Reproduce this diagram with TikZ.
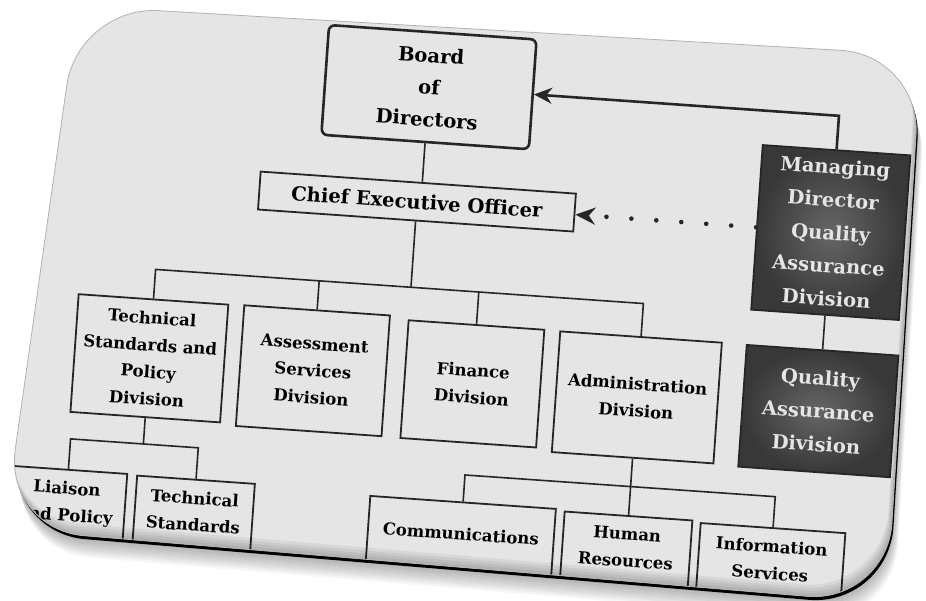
\documentclass[tikz,border=0pt]{standalone}
\usepackage{fontspec}
\setmainfont{DejaVu Serif}
\usetikzlibrary{arrows.meta}

\definecolor{cardgray}{RGB}{229,229,229}
\definecolor{inkgray}{RGB}{38,38,38}

% outline of the tilted card
\def\cardpath{(78,-6) -- (921,-55) -- (887,-603) -- (4,-529) -- cycle}

\begin{document}
\begin{tikzpicture}[x=1pt,y=1pt,>=stealth,
  unit/.style={draw=inkgray,line width=1.8pt,fill=cardgray,align=center,inner sep=0pt,
    font=\bfseries\fontsize{16.5}{27}\selectfont},
  head/.style={unit,font=\bfseries\fontsize{19.5}{32}\selectfont},
  qadiv/.style={head,font=\bfseries\fontsize{19.5}{33}\selectfont,
    inner color=black!60,outer color=black!78,text=white!90!black},
  sub/.style={unit,anchor=north,inner ysep=12pt,text depth=70pt},
  link/.style={draw=inkgray,line width=1.6pt}]
\useasboundingbox (0,0) rectangle (926,-601);
\fill[white] (0,0) rectangle (926,-601);

% soft shadow and dark rim under the card
\foreach \k in {1,...,10}
  \fill[black,opacity=0.035,rounded corners=80,shift={(\k*0.6,-\k*2.2)}] \cardpath;
\fill[black,rounded corners=80,shift={(1.5,-3.5)}] \cardpath;
\fill[cardgray,rounded corners=80] \cardpath;

\begin{scope}
\clip[rounded corners=80] \cardpath;
\begin{scope}[transform canvas={rotate=-4}]
\node[head,rounded corners=6pt,line width=2.6pt,minimum width=208,minimum height=110] (board) at (434,-57) {Board\\of\\Directors};
\node[head,minimum width=316,minimum height=38] (ceo) at (430,-172) {Chief Executive Officer};
\node[qadiv,minimum width=148,minimum height=165] (md) at (845,-174) {Managing\\Director\\Quality\\Assurance\\Division};
\node[qadiv,minimum width=152,minimum height=122] (qa) at (845,-353) {Quality\\Assurance\\Division};

\node[unit,minimum width=150,minimum height=118] (tech) at (174,-347) {Technical\\Standards and\\Policy\\Division};
\node[unit,minimum width=146,minimum height=121] (assess) at (338,-348) {Assessment\\Services\\Division};
\node[unit,minimum width=136,minimum height=118] (finance) at (498,-350) {Finance\\Division};
\node[unit,minimum width=162,minimum height=121] (admin) at (663,-352) {Administration\\Division};

\node[sub,minimum width=118] (liaison) at (101,-463) {Liaison\\and Policy};
\node[sub,minimum width=118] (tstd) at (229,-464) {Technical\\Standards};
\node[sub,minimum width=186,inner ysep=25pt] (comm) at (497,-468) {Communications};
\node[sub,minimum width=128] (hr) at (663,-470) {Human\\Resources};
\node[sub,minimum width=145] (info) at (808,-472) {Information\\Services};

\draw[link] (board.south) -- (board.south |- ceo.north);
\draw[link] (ceo.south) -- ++(0,-66) coordinate (cbus);
\draw[link] (tech.north) |- (cbus) -| (admin.north);
\draw[link] (assess.north) -- (assess.north |- cbus);
\draw[link] (finance.north) -- (finance.north |- cbus);

\draw[link] (tech.south) -- ++(0,-26) coordinate (tbus);
\draw[link] (liaison.north) |- (tbus) -| (tstd.north);

\draw[link] (admin.south) -- ++(0,-28) coordinate (abus);
\draw[link] (comm.north) |- (abus) -| (info.north);
\draw[link] (abus) -- (hr.north);

\draw[link] (md.south) -- (qa.north);
\draw[link,line width=2.6pt,-{Stealth[length=18pt,width=16pt]}] (md.north) |- (board.east);
\draw[inkgray,line width=4.6pt,line cap=round,dash pattern=on 0pt off 25pt,
  -{Stealth[length=20pt,width=17pt]}] (md.west) -- (md.west -| ceo.east);
\end{scope}

% darker bevel along the lower and right edges
\foreach \k in {3,6,9,12}
  \fill[black,opacity=0.06,even odd rule,shift={(-\k*0.3,\k)}]
    (-100,100) rectangle (1000,-700) [rounded corners=80] \cardpath;
\end{scope}
\draw[gray!60,line width=0.8pt,rounded corners=80] \cardpath;
\end{tikzpicture}
\end{document}
